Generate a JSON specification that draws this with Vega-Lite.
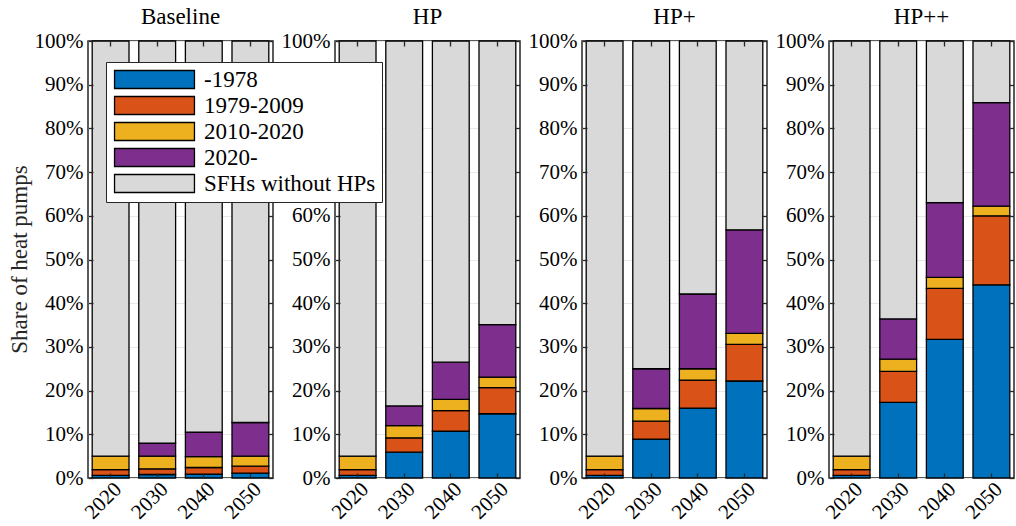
{
  "$schema": "https://vega.github.io/schema/vega-lite/v6.json",
  "background": "white",
  "padding": {"left": 8, "top": 6, "right": 0, "bottom": 0},
  "data": {"values": [
    {"s":"Baseline","r":"Share of heat pumps","yr":"2020","k":1,"g":"-1978","v":0.6},
    {"s":"Baseline","r":"Share of heat pumps","yr":"2020","k":2,"g":"1979-2009","v":1.3},
    {"s":"Baseline","r":"Share of heat pumps","yr":"2020","k":3,"g":"2010-2020","v":3.1},
    {"s":"Baseline","r":"Share of heat pumps","yr":"2020","k":4,"g":"2020-","v":0},
    {"s":"Baseline","r":"Share of heat pumps","yr":"2020","k":5,"g":"SFHs without HPs","v":95.0},
    {"s":"Baseline","r":"Share of heat pumps","yr":"2030","k":1,"g":"-1978","v":0.8},
    {"s":"Baseline","r":"Share of heat pumps","yr":"2030","k":2,"g":"1979-2009","v":1.3},
    {"s":"Baseline","r":"Share of heat pumps","yr":"2030","k":3,"g":"2010-2020","v":2.9},
    {"s":"Baseline","r":"Share of heat pumps","yr":"2030","k":4,"g":"2020-","v":3.0},
    {"s":"Baseline","r":"Share of heat pumps","yr":"2030","k":5,"g":"SFHs without HPs","v":92.0},
    {"s":"Baseline","r":"Share of heat pumps","yr":"2040","k":1,"g":"-1978","v":0.9},
    {"s":"Baseline","r":"Share of heat pumps","yr":"2040","k":2,"g":"1979-2009","v":1.5},
    {"s":"Baseline","r":"Share of heat pumps","yr":"2040","k":3,"g":"2010-2020","v":2.5},
    {"s":"Baseline","r":"Share of heat pumps","yr":"2040","k":4,"g":"2020-","v":5.6},
    {"s":"Baseline","r":"Share of heat pumps","yr":"2040","k":5,"g":"SFHs without HPs","v":89.5},
    {"s":"Baseline","r":"Share of heat pumps","yr":"2050","k":1,"g":"-1978","v":1.1},
    {"s":"Baseline","r":"Share of heat pumps","yr":"2050","k":2,"g":"1979-2009","v":1.6},
    {"s":"Baseline","r":"Share of heat pumps","yr":"2050","k":3,"g":"2010-2020","v":2.3},
    {"s":"Baseline","r":"Share of heat pumps","yr":"2050","k":4,"g":"2020-","v":7.7},
    {"s":"Baseline","r":"Share of heat pumps","yr":"2050","k":5,"g":"SFHs without HPs","v":87.3},
    {"s":"HP","r":"Share of heat pumps","yr":"2020","k":1,"g":"-1978","v":0.6},
    {"s":"HP","r":"Share of heat pumps","yr":"2020","k":2,"g":"1979-2009","v":1.3},
    {"s":"HP","r":"Share of heat pumps","yr":"2020","k":3,"g":"2010-2020","v":3.1},
    {"s":"HP","r":"Share of heat pumps","yr":"2020","k":4,"g":"2020-","v":0},
    {"s":"HP","r":"Share of heat pumps","yr":"2020","k":5,"g":"SFHs without HPs","v":95.0},
    {"s":"HP","r":"Share of heat pumps","yr":"2030","k":1,"g":"-1978","v":5.9},
    {"s":"HP","r":"Share of heat pumps","yr":"2030","k":2,"g":"1979-2009","v":3.3},
    {"s":"HP","r":"Share of heat pumps","yr":"2030","k":3,"g":"2010-2020","v":2.8},
    {"s":"HP","r":"Share of heat pumps","yr":"2030","k":4,"g":"2020-","v":4.5},
    {"s":"HP","r":"Share of heat pumps","yr":"2030","k":5,"g":"SFHs without HPs","v":83.5},
    {"s":"HP","r":"Share of heat pumps","yr":"2040","k":1,"g":"-1978","v":10.7},
    {"s":"HP","r":"Share of heat pumps","yr":"2040","k":2,"g":"1979-2009","v":4.7},
    {"s":"HP","r":"Share of heat pumps","yr":"2040","k":3,"g":"2010-2020","v":2.6},
    {"s":"HP","r":"Share of heat pumps","yr":"2040","k":4,"g":"2020-","v":8.5},
    {"s":"HP","r":"Share of heat pumps","yr":"2040","k":5,"g":"SFHs without HPs","v":73.5},
    {"s":"HP","r":"Share of heat pumps","yr":"2050","k":1,"g":"-1978","v":14.7},
    {"s":"HP","r":"Share of heat pumps","yr":"2050","k":2,"g":"1979-2009","v":6.0},
    {"s":"HP","r":"Share of heat pumps","yr":"2050","k":3,"g":"2010-2020","v":2.4},
    {"s":"HP","r":"Share of heat pumps","yr":"2050","k":4,"g":"2020-","v":12.0},
    {"s":"HP","r":"Share of heat pumps","yr":"2050","k":5,"g":"SFHs without HPs","v":64.9},
    {"s":"HP+","r":"Share of heat pumps","yr":"2020","k":1,"g":"-1978","v":0.6},
    {"s":"HP+","r":"Share of heat pumps","yr":"2020","k":2,"g":"1979-2009","v":1.3},
    {"s":"HP+","r":"Share of heat pumps","yr":"2020","k":3,"g":"2010-2020","v":3.1},
    {"s":"HP+","r":"Share of heat pumps","yr":"2020","k":4,"g":"2020-","v":0},
    {"s":"HP+","r":"Share of heat pumps","yr":"2020","k":5,"g":"SFHs without HPs","v":95.0},
    {"s":"HP+","r":"Share of heat pumps","yr":"2030","k":1,"g":"-1978","v":8.9},
    {"s":"HP+","r":"Share of heat pumps","yr":"2030","k":2,"g":"1979-2009","v":4.1},
    {"s":"HP+","r":"Share of heat pumps","yr":"2030","k":3,"g":"2010-2020","v":2.9},
    {"s":"HP+","r":"Share of heat pumps","yr":"2030","k":4,"g":"2020-","v":9.1},
    {"s":"HP+","r":"Share of heat pumps","yr":"2030","k":5,"g":"SFHs without HPs","v":75.0},
    {"s":"HP+","r":"Share of heat pumps","yr":"2040","k":1,"g":"-1978","v":16.0},
    {"s":"HP+","r":"Share of heat pumps","yr":"2040","k":2,"g":"1979-2009","v":6.4},
    {"s":"HP+","r":"Share of heat pumps","yr":"2040","k":3,"g":"2010-2020","v":2.6},
    {"s":"HP+","r":"Share of heat pumps","yr":"2040","k":4,"g":"2020-","v":17.1},
    {"s":"HP+","r":"Share of heat pumps","yr":"2040","k":5,"g":"SFHs without HPs","v":57.9},
    {"s":"HP+","r":"Share of heat pumps","yr":"2050","k":1,"g":"-1978","v":22.2},
    {"s":"HP+","r":"Share of heat pumps","yr":"2050","k":2,"g":"1979-2009","v":8.4},
    {"s":"HP+","r":"Share of heat pumps","yr":"2050","k":3,"g":"2010-2020","v":2.5},
    {"s":"HP+","r":"Share of heat pumps","yr":"2050","k":4,"g":"2020-","v":23.7},
    {"s":"HP+","r":"Share of heat pumps","yr":"2050","k":5,"g":"SFHs without HPs","v":43.2},
    {"s":"HP++","r":"Share of heat pumps","yr":"2020","k":1,"g":"-1978","v":0.6},
    {"s":"HP++","r":"Share of heat pumps","yr":"2020","k":2,"g":"1979-2009","v":1.3},
    {"s":"HP++","r":"Share of heat pumps","yr":"2020","k":3,"g":"2010-2020","v":3.1},
    {"s":"HP++","r":"Share of heat pumps","yr":"2020","k":4,"g":"2020-","v":0},
    {"s":"HP++","r":"Share of heat pumps","yr":"2020","k":5,"g":"SFHs without HPs","v":95.0},
    {"s":"HP++","r":"Share of heat pumps","yr":"2030","k":1,"g":"-1978","v":17.3},
    {"s":"HP++","r":"Share of heat pumps","yr":"2030","k":2,"g":"1979-2009","v":7.1},
    {"s":"HP++","r":"Share of heat pumps","yr":"2030","k":3,"g":"2010-2020","v":2.8},
    {"s":"HP++","r":"Share of heat pumps","yr":"2030","k":4,"g":"2020-","v":9.2},
    {"s":"HP++","r":"Share of heat pumps","yr":"2030","k":5,"g":"SFHs without HPs","v":63.6},
    {"s":"HP++","r":"Share of heat pumps","yr":"2040","k":1,"g":"-1978","v":31.7},
    {"s":"HP++","r":"Share of heat pumps","yr":"2040","k":2,"g":"1979-2009","v":11.7},
    {"s":"HP++","r":"Share of heat pumps","yr":"2040","k":3,"g":"2010-2020","v":2.5},
    {"s":"HP++","r":"Share of heat pumps","yr":"2040","k":4,"g":"2020-","v":17.1},
    {"s":"HP++","r":"Share of heat pumps","yr":"2040","k":5,"g":"SFHs without HPs","v":37.0},
    {"s":"HP++","r":"Share of heat pumps","yr":"2050","k":1,"g":"-1978","v":44.2},
    {"s":"HP++","r":"Share of heat pumps","yr":"2050","k":2,"g":"1979-2009","v":15.8},
    {"s":"HP++","r":"Share of heat pumps","yr":"2050","k":3,"g":"2010-2020","v":2.2},
    {"s":"HP++","r":"Share of heat pumps","yr":"2050","k":4,"g":"2020-","v":23.7},
    {"s":"HP++","r":"Share of heat pumps","yr":"2050","k":5,"g":"SFHs without HPs","v":14.1}
  ]},
  "facet": {
    "column": {"field": "s", "type": "nominal", "sort": ["Baseline", "HP", "HP+", "HP++"],
      "header": {"title": null, "labelFont": "Liberation Serif", "labelFontSize": 23, "labelColor": "black", "labelPadding": 0}},
    "row": {"field": "r", "type": "nominal",
      "header": {"title": null, "labelFont": "Liberation Serif", "labelFontSize": 23, "labelColor": "#262626", "labelAngle": -90, "labelPadding": -10}}
  },
  "spacing": {"column": 5, "row": 0},
  "resolve": {"axis": {"x": "independent", "y": "independent"}},
  "spec": {
    "width": 185,
    "height": 437,
    "layer": [
      {
        "mark": {"type": "bar", "stroke": "black", "strokeWidth": 1.3},
        "encoding": {
          "x": {"field": "yr", "type": "ordinal", "scale": {"paddingInner": 0.21, "paddingOuter": 0.09},
            "axis": {"orient": "bottom", "title": null, "labelAngle": -45, "labelAlign": "right", "labelBaseline": "top", "labelFont": "Liberation Serif", "labelFontSize": 21, "labelColor": "black", "ticks": false, "domain": false, "labelPadding": 0}},
          "y": {"field": "v", "type": "quantitative", "stack": "zero", "scale": {"domain": [0, 100], "nice": false},
            "axis": {"orient": "left", "title": null, "values": [0,10,20,30,40,50,60,70,80,90,100], "labelExpr": "datum.value + '%'", "grid": true, "gridColor": "#e8e8e8", "gridWidth": 1, "ticks": false, "domain": false, "labelPadding": 5, "labelFont": "Liberation Serif", "labelFontSize": 21, "labelColor": "black", "zindex": 0}},
          "color": {"field": "g", "type": "nominal",
            "scale": {"domain": ["-1978", "1979-2009", "2010-2020", "2020-", "SFHs without HPs"], "range": ["#0072BD", "#D95319", "#EDB120", "#7E2F8E", "#D9D9D9"]},
            "legend": {"orient": "none", "legendX": 18, "legendY": 21, "title": null, "symbolType": "M-4.44,-1H4.44V1H-4.44Z", "symbolSize": 324, "symbolStrokeColor": "black", "symbolStrokeWidth": 1.3, "symbolOpacity": 1, "symbolOffset": 31, "labelOffset": 38, "labelFont": "Liberation Serif", "labelFontSize": 23, "labelColor": "black", "fillColor": "white", "strokeColor": "#262626", "padding": 6, "rowPadding": 1, "labelLimit": 400}},
          "order": {"field": "k", "type": "quantitative"}
        }
      },
      {
        "mark": {"type": "bar", "opacity": 0},
        "encoding": {
          "x": {"field": "yr", "type": "ordinal", "axis": {"orient": "top", "title": null, "labels": false, "domain": false, "ticks": true, "tickSize": -5, "tickColor": "#262626", "tickWidth": 1.3, "zindex": 1}},
          "y": {"field": "v", "type": "quantitative", "stack": "zero", "axis": {"orient": "right", "title": null, "labels": false, "grid": false, "domain": false, "values": [0,10,20,30,40,50,60,70,80,90,100], "tickSize": -5, "tickColor": "#262626", "tickWidth": 1.3, "zindex": 1}}
        }
      },
      {
        "mark": {"type": "bar", "opacity": 0},
        "encoding": {
          "x": {"field": "yr", "type": "ordinal", "axis": {"orient": "bottom", "title": null, "labels": false, "domain": false, "ticks": true, "tickSize": -5, "tickColor": "#262626", "tickWidth": 1.3, "zindex": 1}},
          "y": {"field": "v", "type": "quantitative", "stack": "zero", "axis": {"orient": "left", "title": null, "labels": false, "grid": false, "domain": false, "values": [0,10,20,30,40,50,60,70,80,90,100], "tickSize": -5, "tickColor": "#262626", "tickWidth": 1.3, "zindex": 1}}
        }
      }
    ],
    "resolve": {"axis": {"x": "independent", "y": "independent"}}
  },
  "config": {
    "view": {"stroke": "#262626", "strokeWidth": 1.5},
    "font": "Liberation Serif"
  }
}
